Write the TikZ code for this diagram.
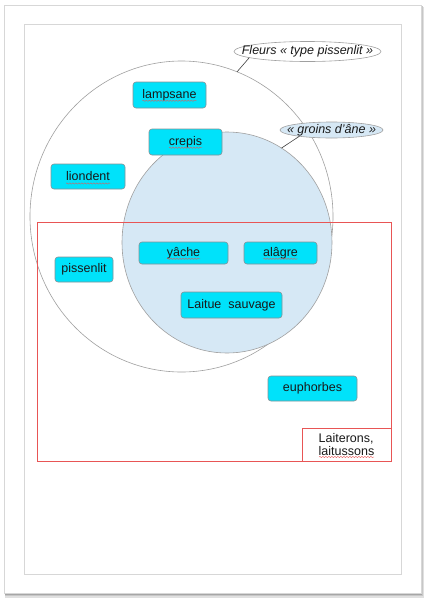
\documentclass[tikz,border=0pt]{standalone}
\usepackage{fontspec}
\setmainfont{Liberation Sans}
\usetikzlibrary{shapes.geometric,decorations.pathmorphing}
\definecolor{boxcyan}{RGB}{0,226,250}
\definecolor{boxedge}{RGB}{135,145,150}
\definecolor{setblue}{RGB}{214,232,245}
\definecolor{setred}{RGB}{232,85,85}
\definecolor{circgray}{RGB}{160,160,160}
\definecolor{pagegray}{RGB}{215,215,215}
\tikzset{
  plant/.style={draw=boxedge, line width=0.6pt, fill=boxcyan, rounded corners=3pt,
    inner sep=0pt, font=\fontsize{12.5}{14}\selectfont, text=black!90},
  setlabel/.style={ellipse, draw=circgray, line width=0.6pt, inner sep=0pt, outer sep=0pt},
  labeltext/.style={inner sep=0pt, font=\fontsize{12.5}{14}\selectfont\itshape, text=black!90},
  setring/.style={ellipse, draw=circgray, line width=0.6pt, inner sep=0pt, outer sep=0pt},
  leader/.style={draw=black!75, line width=0.6pt},
  squiggle/.style={draw=setred, line width=0.35pt, decorate,
    decoration={snake, segment length=3pt, amplitude=0.7pt}}
}
\begin{document}
\begin{tikzpicture}[x=1pt,y=-1pt]
\useasboundingbox (0,0) rectangle (428,600);
% page with shadow
\fill[black!12] (5,7) rectangle (424,598);
\fill[black!22] (5,6) rectangle (423,596);
\fill[black!35] (5,6) rectangle (422,595);
\fill[white, draw=pagegray, line width=0.5pt] (4,5) rectangle (421,593);
\draw[pagegray, line width=0.8pt] (24,24) rectangle (401,574);

% sets
\node[setring, minimum width=303pt, minimum height=311pt] (big) at (181.5,216.5) {};
\node[setring, fill=setblue, minimum width=210pt, minimum height=221pt] (groin) at (227,242.5) {};
\node[draw=setred, line width=0.6pt, inner sep=0pt, minimum width=354pt, minimum height=239pt] (laitset) at (214,341.5) {};
\node[draw=setred, line width=0.6pt, inner sep=0pt, minimum width=89pt, minimum height=33pt,
  align=left, font=\fontsize{12.5}{13.5}\selectfont, text=black!90] (lt) at (346.5,444.5) {Laiterons,\\laitussons};

% set labels
\node[setlabel, fill=white, minimum width=147pt, minimum height=20pt] (fl) at (307.5,51.5) {};
\node[labeltext] (flt) at (fl.center) {Fleurs « type pissenlit »};
\node[setlabel, fill=setblue, minimum width=103pt, minimum height=16pt] (gr) at (331.5,130) {};
\node[labeltext] (grt) at (gr.center) {« groins d'âne »};
\draw[leader] (fl.186) -- (big.69);
\draw[leader] (gr.191) -- (groin.60);

% plants
\node[plant, minimum width=73pt, minimum height=26pt] (lam) at (169.5,95) {lampsane};
\node[plant, minimum width=73pt, minimum height=26pt] (cre) at (185.5,142) {crepis};
\node[plant, minimum width=74pt, minimum height=25pt] (lio) at (88,176.5) {liondent};
\node[plant, minimum width=58pt, minimum height=25pt] (pis) at (84,269.5) {pissenlit};
\node[plant, minimum width=89pt, minimum height=22pt] (yac) at (183.5,253) {yâche};
\node[plant, minimum width=73pt, minimum height=22pt] (ala) at (280.5,253) {alâgre};
\node[plant, minimum width=101pt, minimum height=26pt] (lai) at (231.5,305) {Laitue~~sauvage};
\node[plant, minimum width=89pt, minimum height=25pt] (eup) at (312.5,388.5) {euphorbes};

% spell-check squiggles
\draw[squiggle] ([xshift=-27pt,yshift=-2.5pt]lam.base) -- ([xshift=27pt,yshift=-2.5pt]lam.base);
\draw[squiggle] ([xshift=-16.5pt,yshift=-2.5pt]cre.base) -- ([xshift=16.5pt,yshift=-2.5pt]cre.base);
\draw[squiggle] ([xshift=-22pt,yshift=-2.5pt]lio.base) -- ([xshift=22pt,yshift=-2.5pt]lio.base);
\draw[squiggle] ([xshift=-16.5pt,yshift=-2.5pt]yac.base) -- ([xshift=16.5pt,yshift=-2.5pt]yac.base);
\draw[squiggle] ([xshift=-17pt,yshift=-2.5pt]ala.base) -- ([xshift=17pt,yshift=-2.5pt]ala.base);
\draw[squiggle] ([xshift=-27.5pt,yshift=-12.5pt]lt.center) -- ([xshift=27.5pt,yshift=-12.5pt]lt.center);
\end{tikzpicture}
\end{document}
